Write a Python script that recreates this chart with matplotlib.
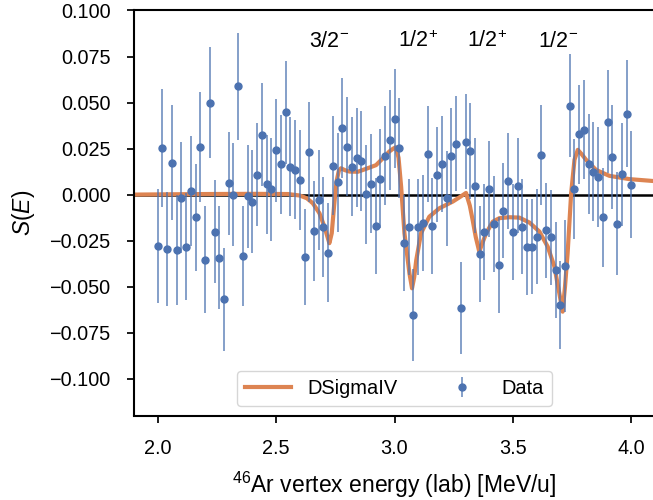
import numpy as np
import matplotlib
matplotlib.use("Agg")
import matplotlib.pyplot as plt

plt.rcParams['font.family'] = ['Liberation Sans', 'DejaVu Sans']
plt.rcParams['mathtext.fontset'] = 'custom'
plt.rcParams['mathtext.rm'] = 'Liberation Sans'
plt.rcParams['mathtext.it'] = 'Liberation Sans:italic'
plt.rcParams['mathtext.bf'] = 'Liberation Sans:bold'

#measured points (vertex energy bins)
energy = [2.00, 2.02, 2.04, 2.06, 2.08, 2.10, 2.12, 2.14, 2.16, 2.18,
          2.20, 2.22, 2.24, 2.26, 2.28, 2.30, 2.32, 2.34, 2.36, 2.38,
          2.40, 2.42, 2.44, 2.46, 2.48, 2.50, 2.52, 2.54, 2.56, 2.58,
          2.60, 2.62, 2.64, 2.66, 2.68, 2.70, 2.72, 2.74, 2.76, 2.78,
          2.80, 2.82, 2.84, 2.86, 2.88, 2.90, 2.92, 2.94, 2.96, 2.98,
          3.00, 3.02, 3.04, 3.06, 3.08, 3.10, 3.12, 3.14, 3.16, 3.18,
          3.20, 3.22, 3.24, 3.26, 3.28, 3.30, 3.32, 3.34, 3.36, 3.38,
          3.40, 3.42, 3.44, 3.46, 3.48, 3.50, 3.52, 3.54, 3.56, 3.58,
          3.60, 3.62, 3.64, 3.66, 3.68, 3.70, 3.72, 3.74, 3.76, 3.78,
          3.80, 3.82, 3.84, 3.86, 3.88, 3.90, 3.92, 3.94, 3.96, 3.98,
          4.00]
s_data = [-0.0279, 0.0252, -0.0296, 0.0174, -0.0300, -0.0016, -0.0282, 0.0019, -0.0123, 0.0258,
          -0.0353, 0.0500, -0.0201, -0.0344, -0.0568, 0.0062, -0.0001, 0.0589, -0.0333, -0.0010,
          -0.0038, 0.0109, 0.0324, 0.0055, 0.0028, 0.0241, 0.0165, 0.0446, 0.0151, 0.0136,
          0.0080, -0.0340, 0.0232, -0.0197, -0.0030, -0.0175, -0.0315, 0.0158, 0.0067, 0.0361,
          0.0261, 0.0152, 0.0200, 0.0182, 0.0002, 0.0060, -0.0170, 0.0086, 0.0211, 0.0296,
          0.0412, 0.0254, -0.0261, -0.0177, -0.0655, -0.0175, -0.0154, 0.0221, -0.0170, 0.0109,
          0.0167, -0.0021, 0.0209, 0.0277, -0.0614, 0.0288, 0.0236, 0.0049, -0.0322, -0.0204,
          0.0031, -0.0159, -0.0384, -0.0087, 0.0075, -0.0203, 0.0049, -0.0174, -0.0286, -0.0282,
          -0.0228, 0.0214, -0.0195, -0.0233, -0.0409, -0.0601, -0.0389, 0.0482, 0.0031, 0.0328,
          0.0353, 0.0167, 0.0125, 0.0095, -0.0123, 0.0395, 0.0204, -0.0159, 0.0111, 0.0440,
          0.0053]
s_err = [0.031, 0.032, 0.031, 0.031, 0.030, 0.030, 0.029, 0.030, 0.029, 0.030,
         0.029, 0.030, 0.028, 0.028, 0.028, 0.028, 0.028, 0.029, 0.027, 0.028,
         0.028, 0.028, 0.028, 0.027, 0.028, 0.028, 0.027, 0.028, 0.027, 0.027,
         0.027, 0.026, 0.027, 0.027, 0.027, 0.027, 0.027, 0.027, 0.027, 0.027,
         0.027, 0.027, 0.027, 0.027, 0.027, 0.027, 0.026, 0.027, 0.027, 0.027,
         0.027, 0.027, 0.026, 0.026, 0.025, 0.026, 0.026, 0.026, 0.026, 0.026,
         0.026, 0.026, 0.026, 0.026, 0.025, 0.026, 0.026, 0.026, 0.026, 0.026,
         0.026, 0.026, 0.026, 0.026, 0.026, 0.026, 0.026, 0.026, 0.026, 0.026,
         0.026, 0.027, 0.026, 0.026, 0.026, 0.024, 0.025, 0.028, 0.027, 0.027,
         0.027, 0.027, 0.027, 0.027, 0.027, 0.028, 0.028, 0.028, 0.028, 0.029,
         0.029]

#fit curve (DSigmaIV)
fit_e = [1.90, 2.00, 2.20, 2.40, 2.55, 2.60, 2.63, 2.655, 2.683, 2.704,
         2.717, 2.725, 2.735, 2.745, 2.755, 2.765, 2.774, 2.79, 2.81, 2.845,
         2.88, 2.922, 2.957, 2.978, 2.995, 3.006, 3.017, 3.028, 3.042, 3.063,
         3.074, 3.083, 3.092, 3.112, 3.147, 3.19, 3.246, 3.28, 3.302, 3.318,
         3.33, 3.343, 3.358, 3.372, 3.387, 3.415, 3.443, 3.485, 3.527, 3.57,
         3.612, 3.647, 3.675, 3.696, 3.71, 3.72, 3.731, 3.746, 3.76, 3.774,
         3.79, 3.809, 3.851, 3.907, 3.992, 4.10]
fit_s = [0.0000, 0.0001, 0.0003, 0.0004, 0.0003, -0.0005, -0.0020, -0.0047, -0.0101, -0.0174,
         -0.0230, -0.0264, -0.0210, -0.0060, 0.0070, 0.0130, 0.0143, 0.0133, 0.0125, 0.0124,
         0.0140, 0.0160, 0.0205, 0.0234, 0.0250, 0.0257, 0.0200, 0.0043, -0.0210, -0.0427,
         -0.0509, -0.0450, -0.0355, -0.0210, -0.0120, -0.0074, -0.0038, -0.0010, 0.0009, -0.0060,
         -0.0138, -0.0230, -0.0310, -0.0260, -0.0210, -0.0147, -0.0128, -0.0123, -0.0125, -0.0152,
         -0.0201, -0.0283, -0.0390, -0.0536, -0.0636, -0.0500, -0.0319, 0.0008, 0.0189, 0.0243,
         0.0220, 0.0189, 0.0134, 0.0102, 0.0084, 0.0073]

#resonance labels
res_labels = ['3/2$^{-}$', '1/2$^{+}$', '1/2$^{+}$', '1/2$^{-}$']
res_e = [2.724, 3.10, 3.39, 3.692]

blue = '#4c72b0'
orange = '#dd8452'

fig = plt.figure(figsize=(6.53, 5.0), dpi=100)
ax = fig.add_axes([134/653, 84.5/500, 521/653, 405/500])

ax.axhline(0, color='black', lw=1.8, zorder=1)
ax.plot(fit_e, fit_s, color=orange, lw=3, label='DSigmaIV', zorder=2)
eb = ax.errorbar(energy, s_data, yerr=s_err, fmt='o', color=blue, ms=5,
                 elinewidth=1.2, capsize=0, label='Data', zorder=3)
eb[2][0].set_alpha(0.8)

for lab, e in zip(res_labels, res_e):
    ax.text(e, 0.080, lab, ha='center', va='baseline', fontsize=15.5)

ax.set_xlim(1.9, 4.1)
ax.set_ylim(-0.12, 0.1)
ax.set_xticks([2.0, 2.5, 3.0, 3.5, 4.0])
yt = [-0.100, -0.075, -0.050, -0.025, 0.000, 0.025, 0.050, 0.075, 0.100]
ax.set_yticks(yt)
ax.set_yticklabels([('{:.3f}'.format(v)).replace('-', '\u2212') for v in yt])

ax.tick_params(direction='out', length=5, width=1.25, pad=12, labelsize=14.3)
for sp in ax.spines.values():
    sp.set_linewidth(1.5)
ax.spines['right'].set_visible(False)

ax.set_xlabel('$^{46}$Ar vertex energy (lab) [MeV/u]', fontsize=16.5, labelpad=8.5)
ax.set_ylabel('$S(E)$', fontsize=16.5, labelpad=9)

ax.legend(loc='lower center', ncol=2, fontsize=14.4, handlelength=2.3,
          columnspacing=2.1, frameon=True)

fig.savefig('out.png', dpi=100)
